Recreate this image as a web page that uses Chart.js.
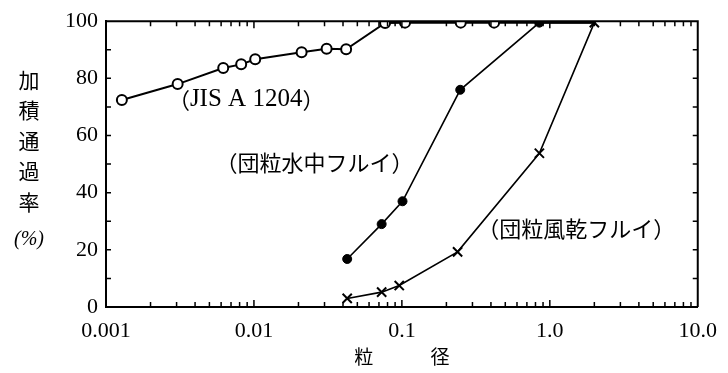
<!DOCTYPE html>
<html>
<head>
<meta charset="utf-8">
<script src="https://cdn.jsdelivr.net/npm/chart.js@4"></script>
<style>
  html, body { margin: 0; padding: 0; background: #fff; }
  #wrap { width: 728px; height: 373px; }
</style>
</head>
<body>
<div id="wrap"><canvas id="grafico" width="728" height="373"></canvas></div>
<script>
// datos
const xTickValues = [0.001, 0.01, 0.1, 1, 10];
const xTickLabels = ['0.001', '0.01', '0.1', '1.0', '10.0'];
const yTickValues = [0, 20, 40, 60, 80, 100];

const jisSizes = [0.00128, 0.00305, 0.0062, 0.0082, 0.0102, 0.021, 0.031, 0.042, 0.077, 0.105, 0.25, 0.42, 0.84, 2.0];
const jisPass  = [72.4, 78.0, 83.6, 84.9, 86.7, 89.1, 90.4, 90.2, 99.4, 99.5, 99.5, 99.5, 99.5, 99.5];

const wetSizes = [0.0427, 0.073, 0.101, 0.248, 0.85, 2.0];
const wetPass  = [16.8, 29.0, 37.0, 76.0, 99.5, 99.5];

const drySizes = [0.0427, 0.073, 0.096, 0.238, 0.85, 2.0];
const dryPass  = [3.0, 5.2, 7.5, 19.3, 53.8, 99.5];

const yTitleChars = ['加', '積', '通', '過', '率', '(%)'];
const notas = [
    { text: '（JIS A 1204）', x: 0.00262, y: 72.5 },
    { text: '（団粒水中フルイ）', x: 0.0055, y: 50.5 },
    { text: '（団粒風乾フルイ）', x: 0.3236, y: 27.5 }
];

const FONT_NUM = '"Liberation Serif", "DejaVu Serif", serif';
const FONT_CJK = '"Noto Sans CJK JP", sans-serif';

function puntos(xs, ys) {
    return xs.map((x, i) => ({ x: x, y: ys[i] }));
}

// texto mixto: letras latinas en serif (algo mas grandes), el resto en CJK
function textoMixto(ctx, texto, x, y, size) {
    let cx = x;
    for (const ch of texto) {
        ctx.font = (ch.charCodeAt(0) < 128 ? (size + 3) + 'px ' + FONT_NUM : size + 'px ' + FONT_CJK);
        ctx.fillText(ch, cx, y);
        cx += ctx.measureText(ch).width;
    }
}

// ticks interiores, marco superior/derecho, titulo vertical y notas
const marcoPlugin = {
    id: 'marco',
    afterDatasetsDraw(chart) {
        const ctx = chart.ctx;
        const a = chart.chartArea;
        const sx = chart.scales.x;
        const sy = chart.scales.y;
        ctx.save();
        ctx.strokeStyle = '#000';
        ctx.lineWidth = 2;
        ctx.beginPath();
        ctx.moveTo(a.left, a.top);
        ctx.lineTo(a.right, a.top);
        ctx.lineTo(a.right, a.bottom);
        ctx.stroke();

        ctx.lineWidth = 1.5;
        ctx.beginPath();
        for (let e = -3; e < 1; e++) {
            for (let m = 1; m <= 9; m++) {
                const v = m * Math.pow(10, e);
                const px = sx.getPixelForValue(v);
                const len = m === 1 ? 7 : 5;
                ctx.moveTo(px, a.bottom);
                ctx.lineTo(px, a.bottom - len);
                ctx.moveTo(px, a.top);
                ctx.lineTo(px, a.top + len);
            }
        }
        for (let v = 10; v < 100; v += 10) {
            const py = sy.getPixelForValue(v);
            ctx.moveTo(a.left, py);
            ctx.lineTo(a.left + 5, py);
            ctx.moveTo(a.right, py);
            ctx.lineTo(a.right - 5, py);
        }
        ctx.stroke();

        ctx.fillStyle = '#000';
        ctx.textAlign = 'center';
        ctx.textBaseline = 'middle';
        yTitleChars.forEach((c, i) => {
            const yy = i < 5 ? 80 + i * 30.5 : 240;
            ctx.font = c === '(%)' ? 'italic 20px ' + FONT_NUM : '21px ' + FONT_CJK;
            ctx.fillText(c, 29, yy);
        });

        ctx.textAlign = 'left';
        notas.forEach(n => {
            textoMixto(ctx, n.text, sx.getPixelForValue(n.x), sy.getPixelForValue(n.y), 22);
        });
        ctx.restore();
    }
};

const ctx = document.getElementById('grafico').getContext('2d');
new Chart(ctx, {
    type: 'scatter',
    data: {
        datasets: [
            {
                label: 'JIS A 1204',
                data: puntos(jisSizes, jisPass),
                showLine: true,
                borderColor: '#000',
                borderWidth: 2,
                pointStyle: 'circle',
                pointRadius: c => (c.dataIndex >= 12 ? 0 : 5),
                pointBackgroundColor: '#fff',
                pointBorderColor: '#000',
                pointBorderWidth: 2
            },
            {
                label: '団粒水中フルイ',
                data: puntos(wetSizes, wetPass),
                showLine: true,
                borderColor: '#000',
                borderWidth: 1.6,
                pointStyle: 'circle',
                pointRadius: c => (c.dataIndex >= 5 ? 0 : 4.5),
                pointBackgroundColor: '#000',
                pointBorderColor: '#000',
                pointBorderWidth: 1
            },
            {
                label: '団粒風乾フルイ',
                data: puntos(drySizes, dryPass),
                showLine: true,
                borderColor: '#000',
                borderWidth: 1.6,
                pointStyle: 'crossRot',
                pointRadius: 6.5,
                pointBorderColor: '#000',
                pointBorderWidth: 2
            }
        ]
    },
    options: {
        responsive: false,
        animation: false,
        layout: { padding: { left: 0, right: 29, top: 17, bottom: 0 } },
        plugins: { legend: { display: false }, tooltip: { enabled: false } },
        scales: {
            x: {
                type: 'logarithmic',
                min: 0.001,
                max: 10,
                afterBuildTicks: s => { s.ticks = xTickValues.map(v => ({ value: v })); },
                afterFit: s => { s.height = 66; },
                grid: { display: false, drawTicks: false },
                border: { display: true, color: '#000', width: 2 },
                ticks: {
                    color: '#000',
                    padding: 11,
                    maxRotation: 0,
                    autoSkip: false,
                    font: { family: FONT_NUM, size: 22 },
                    callback: (v, i) => xTickLabels[i]
                },
                title: {
                    display: true,
                    text: '粒　　　径',
                    color: '#000',
                    padding: { top: 0, bottom: 5 },
                    font: { family: FONT_CJK, size: 19 }
                }
            },
            y: {
                min: 0,
                max: 100,
                afterBuildTicks: s => { s.ticks = yTickValues.map(v => ({ value: v })); },
                afterFit: s => { s.width = 106; },
                grid: { display: false, drawTicks: false },
                border: { display: true, color: '#000', width: 2 },
                ticks: {
                    color: '#000',
                    padding: 8,
                    font: { family: FONT_NUM, size: 22 }
                }
            }
        }
    },
    plugins: [marcoPlugin]
});
</script>
</body>
</html>
